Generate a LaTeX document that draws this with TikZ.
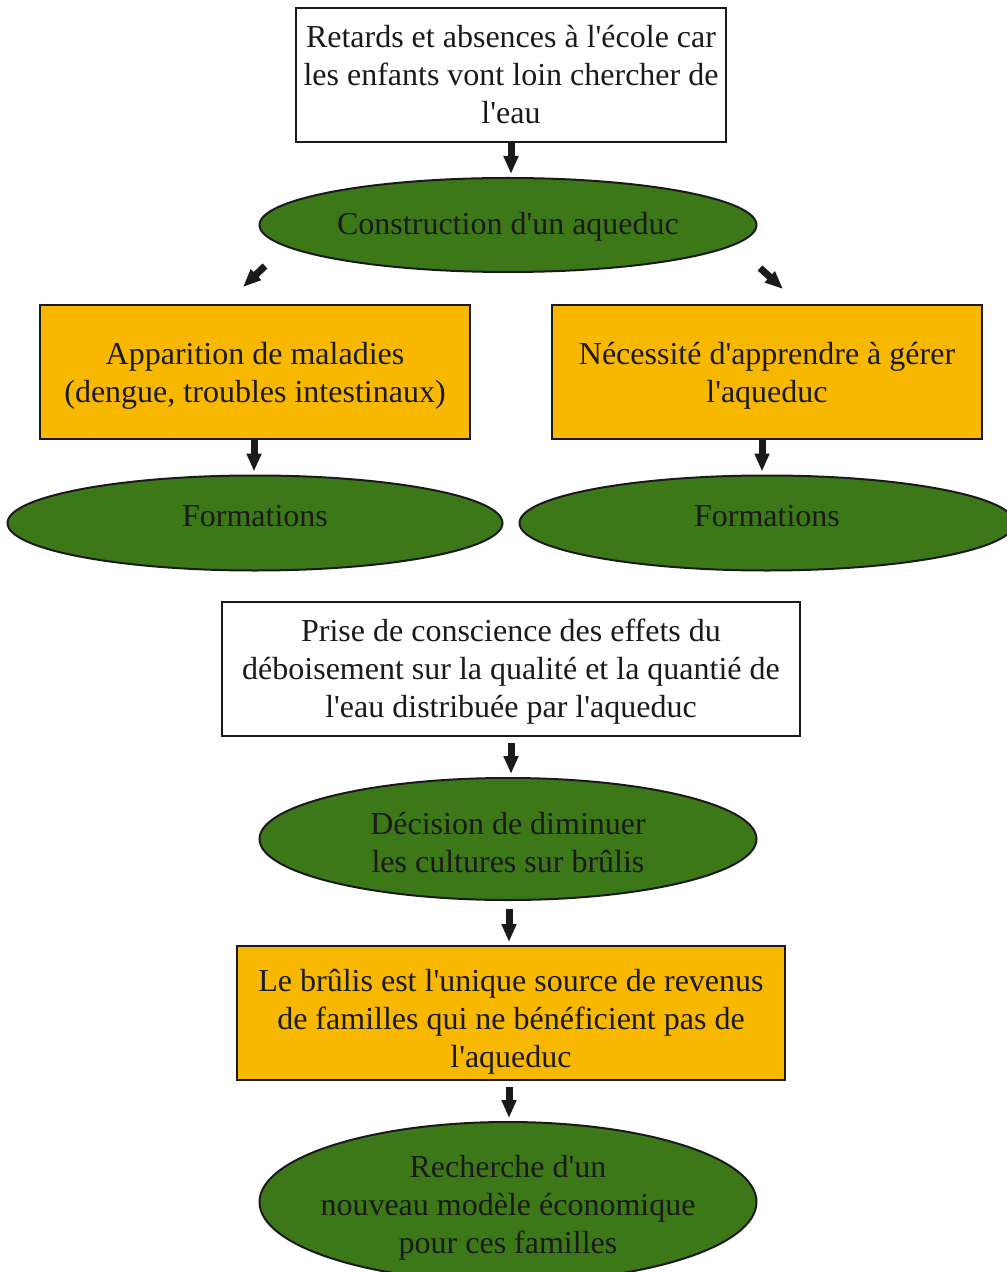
\documentclass[tikz,border=0pt]{standalone}
\usepackage{fontspec}
\setmainfont{Liberation Serif}[Ligatures=TeXOff]
\usepackage{tikz}
\usetikzlibrary{shapes.geometric,arrows.meta,positioning}
\definecolor{leaf}{RGB}{60,120,24}
\definecolor{amber}{RGB}{249,184,0}
\definecolor{ink}{RGB}{26,26,26}
\newcommand{\topgap}[1]{\rule{0pt}{#1}}
\tikzset{
  txt/.style={align=center, text=ink, font=\fontsize{16}{19}\selectfont},
  whitebox/.style={txt, draw=ink, line width=1pt, fill=white, rectangle, minimum height=67pt},
  ambox/.style={whitebox, fill=amber},
  leafell/.style={txt, draw=ink, line width=1pt, fill=leaf, ellipse, inner sep=0pt},
  arr/.style={-{Triangle[width=7pt,length=9pt]}, line width=3.5pt, draw=ink, shorten >=1.5pt}
}
\begin{document}
\begin{tikzpicture}[x=0.5pt,y=-0.5pt]
\useasboundingbox (0,0) rectangle (1006,1272);
% nodes
 \node[whitebox, minimum width=215pt] (retard) at (511,75) {Retards et absences à l'école car\\les enfants vont loin chercher de\\l'eau};
 \node[leafell, minimum width=248.5pt, minimum height=47pt] (aqueduc) at (508,225) {\topgap{13pt}Construction d'un aqueduc};
 \node[ambox, minimum width=215pt] (maladie) at (255,372) {\topgap{15pt}Apparition de maladies\\(dengue, troubles intestinaux)};
 \node[ambox, minimum width=215pt] (gerer) at (767,372) {\topgap{15pt}Nécessité d'apprendre à gérer\\l'aqueduc};
 \node[leafell, minimum width=247.5pt, minimum height=47.5pt] (formL) at (255,523) {\raisebox{3.5pt}[\height][\depth]{Formations}};
 \node[leafell, minimum width=247.5pt, minimum height=47.5pt] (formR) at (767,523) {\raisebox{3.5pt}[\height][\depth]{Formations}};
 \node[whitebox, minimum width=289pt] (prise) at (511,669) {\topgap{14pt}Prise de conscience des effets du\\déboisement sur la qualité et la quantié de\\l'eau distribuée par l'aqueduc};
 \node[leafell, minimum width=248.5pt, minimum height=61pt] (decision) at (508,839) {\topgap{15pt}Décision de diminuer\\les cultures sur brûlis};
 \node[ambox, inner ysep=0pt, minimum width=274pt] (brulis) at (511,1013) {\topgap{20pt}Le brûlis est l'unique source de revenus\\de familles qui ne bénéficient pas de\\l'aqueduc};
 \node[leafell, inner xsep=-20pt, inner ysep=-4pt, minimum width=248.5pt, minimum height=80pt] (modele) at (508,1202) {\topgap{17pt}Recherche d'un\\nouveau modèle économique\\pour ces familles};
% edges
 \draw[arr] (retard.south) -- (retard.south |- aqueduc.north);
 \draw[arr, shorten >=0pt] ([shift={(-243,-7)}]aqueduc.south) -- ([shift={(-12,-17)}]maladie.north);
 \draw[arr, shorten >=0pt] ([shift={(252,-5)}]aqueduc.south) -- ([shift={(16,-15)}]gerer.north);
 \draw[arr] ([xshift=-0.5pt]maladie.south) -- ([xshift=-0.5pt]maladie.south |- formL.north);
 \draw[arr] ([xshift=-2.5pt]gerer.south) -- ([xshift=-2.5pt]gerer.south |- formR.north);
 \draw[arr, shorten <=3pt] (prise.south) -- (prise.south |- decision.north);
 \draw[arr, shorten <=4pt] ([xshift=0.5pt]decision.south) -- ([xshift=0.5pt]decision.south |- brulis.north);
 \draw[arr, shorten <=3pt] ([xshift=-1pt]brulis.south) -- ([xshift=-1pt]brulis.south |- modele.north);
\end{tikzpicture}
\end{document}
